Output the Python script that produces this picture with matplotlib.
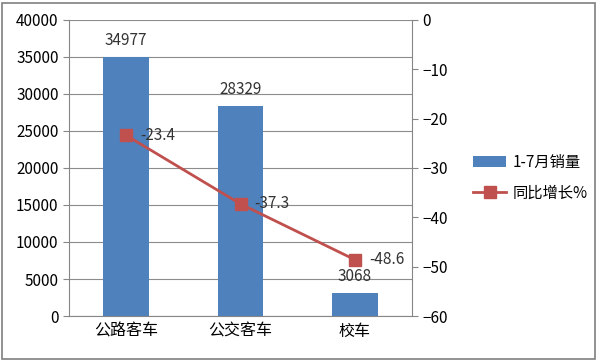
import matplotlib.pyplot as plt
from matplotlib.patches import Rectangle

plt.rcParams['font.family'] = ['Noto Sans CJK SC', 'DejaVu Sans']

categories = ['公路客车', '公交客车', '校车']
sales = [34977, 28329, 3068]
growth = [-23.4, -37.3, -48.6]
left_ticks = [0, 5000, 10000, 15000, 20000, 25000, 30000, 35000, 40000]
right_ticks = [-60, -50, -40, -30, -20, -10, 0]

bar_color = '#4F81BD'
line_color = '#C0504D'
axis_gray = '#868686'

fig = plt.figure(figsize=(6, 3.62), dpi=100)
ax = fig.add_axes([0.115, 0.127, 0.572, 0.818])
x = list(range(len(categories)))

ax.bar(x, sales, width=0.4, color=bar_color, zorder=2, label='1-7月销量')
ax.set_xlim(-0.5, 2.5)
ax.set_ylim(0, 40000)
ax.set_yticks(left_ticks)
ax.set_xticks(x)
ax.set_xticklabels(categories, fontsize=11.5)
ax.tick_params(axis='x', length=0, pad=5)
ax.tick_params(axis='y', labelsize=11, length=4, color=axis_gray, direction='out')
ax.yaxis.grid(True, color='#8C8C8C', linewidth=0.8, zorder=0)
for s in ['left', 'bottom']:
    ax.spines[s].set_color(axis_gray)
ax.spines['top'].set_visible(False)
ax.spines['right'].set_visible(False)

for xi, v in zip(x, sales):
    ax.annotate(str(v), (xi, v), xytext=(0, 6), textcoords='offset points',
                ha='center', va='bottom', fontsize=11, color='#333333')

ax2 = ax.twinx()
ax2.plot(x, growth, color=line_color, linewidth=2, marker='s', markersize=9,
         zorder=3, label='同比增长%')
ax2.set_ylim(-60, 0)
ax2.set_yticks(right_ticks)
ax2.tick_params(axis='y', labelsize=11, length=4, color=axis_gray, direction='out')
ax2.spines['right'].set_color(axis_gray)
for s in ['top', 'left', 'bottom']:
    ax2.spines[s].set_visible(False)

for xi, v in zip(x, growth):
    ax2.annotate(f'{v}', (xi, v), xytext=(10, 0), textcoords='offset points',
                 ha='left', va='center', fontsize=11, color='#333333')

h1, l1 = ax.get_legend_handles_labels()
h2, l2 = ax2.get_legend_handles_labels()
fig.legend(h1 + h2, l1 + l2, loc='center left', bbox_to_anchor=(0.765, 0.51),
           frameon=False, fontsize=11, handlelength=2.2, handletextpad=0.4,
           labelspacing=0.9)

fig.patches.append(Rectangle((0.004, 0.008), 0.988, 0.984, transform=fig.transFigure,
                             fill=False, edgecolor='#7F7F7F', linewidth=1.2))

fig.savefig('out.png', dpi=100)
